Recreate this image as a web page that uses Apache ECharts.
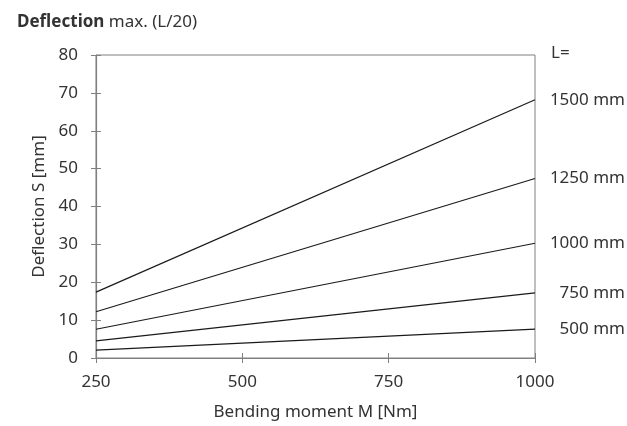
<!DOCTYPE html>
<html>
<head>
<meta charset="utf-8">
<script src="https://cdn.jsdelivr.net/npm/echarts@6/dist/echarts.min.js"></script>
<style>
  html, body { margin: 0; padding: 0; background: #fff; }
  #chart { width: 627px; height: 426px; }
</style>
</head>
<body>
<div id="chart"></div>
<script>
// bending moment range (x) and deflection at both ends for each length L
var moments = [250, 1000]
var lengths = ['1500 mm', '1250 mm', '1000 mm', '750 mm', '500 mm']
var defl1500 = [17.4, 68.2]
var defl1250 = [12.2, 47.4]
var defl1000 = [7.6, 30.3]
var defl750 = [4.5, 17.2]
var defl500 = [2.1, 7.6]
var allDefl = [defl1500, defl1250, defl1000, defl750, defl500]

var font = 'Noto Sans'
var fs = 17
var axisColor = '#808080'
var textColor = '#333'

function pairs (ys) {
  return moments.map(function (m, i) { return [m, ys[i]] })
}

var series = lengths.map(function (name, i) {
  return {
    name: name,
    type: 'line',
    data: pairs(allDefl[i]),
    symbol: 'none',
    lineStyle: { color: '#1a1a1a', width: 1.2 },
    endLabel: {
      show: true,
      formatter: name,
      align: 'right',
      distance: 90,
      color: textColor,
      fontFamily: font,
      fontSize: fs
    }
  }
})

var option = {
  animation: false,
  title: {
    left: 12,
    top: 9,
    text: '{b|Deflection} max. (L/20)',
    textStyle: {
      fontFamily: font,
      fontSize: fs,
      fontWeight: 'normal',
      color: textColor,
      rich: {
        b: { fontFamily: font, fontSize: fs, fontWeight: 'bold', color: textColor }
      }
    }
  },
  graphic: [{
    type: 'text',
    left: 551,
    top: 45,
    style: { text: 'L=', fontFamily: font, fontSize: fs, fill: textColor }
  }],
  grid: {
    left: 96,
    right: 92,
    top: 55,
    bottom: 67,
    show: true,
    borderColor: axisColor,
    borderWidth: 1
  },
  xAxis: [{
    type: 'value',
    min: 250,
    max: 1000,
    interval: 250,
    name: 'Bending moment M [Nm]',
    nameLocation: 'middle',
    nameGap: 46,
    nameTextStyle: { fontFamily: font, fontSize: fs, color: textColor },
    axisLine: { show: true, lineStyle: { color: axisColor, width: 1.2 } },
    axisTick: { show: true, length: 5, lineStyle: { color: axisColor } },
    axisLabel: {
      margin: 16, fontFamily: font, fontSize: fs, color: textColor,
      formatter: function (v) { return String(v) }
    },
    splitLine: { show: false }
  }, {
    // inner half of the crossing ticks
    type: 'value',
    position: 'bottom',
    min: 250,
    max: 1000,
    interval: 250,
    axisLine: { show: false },
    axisTick: { show: true, inside: true, length: 5, lineStyle: { color: axisColor } },
    axisLabel: { show: false },
    splitLine: { show: false }
  }],
  yAxis: [{
    type: 'value',
    min: 0,
    max: 80,
    interval: 10,
    name: 'Deflection S [mm]',
    nameLocation: 'middle',
    nameGap: 44,
    nameTextStyle: { fontFamily: font, fontSize: fs, color: textColor },
    axisLine: { show: true, lineStyle: { color: axisColor, width: 1.2 } },
    axisTick: { show: true, length: 5, lineStyle: { color: axisColor } },
    axisLabel: { margin: 18, fontFamily: font, fontSize: fs, color: textColor },
    splitLine: { show: false }
  }, {
    type: 'value',
    position: 'left',
    min: 0,
    max: 80,
    interval: 10,
    axisLine: { show: false },
    axisTick: { show: true, inside: true, length: 5, lineStyle: { color: axisColor } },
    axisLabel: { show: false },
    splitLine: { show: false }
  }],
  series: series
}

var myChart = echarts.init(document.getElementById('chart'))
myChart.setOption(option)
</script>
</body>
</html>
